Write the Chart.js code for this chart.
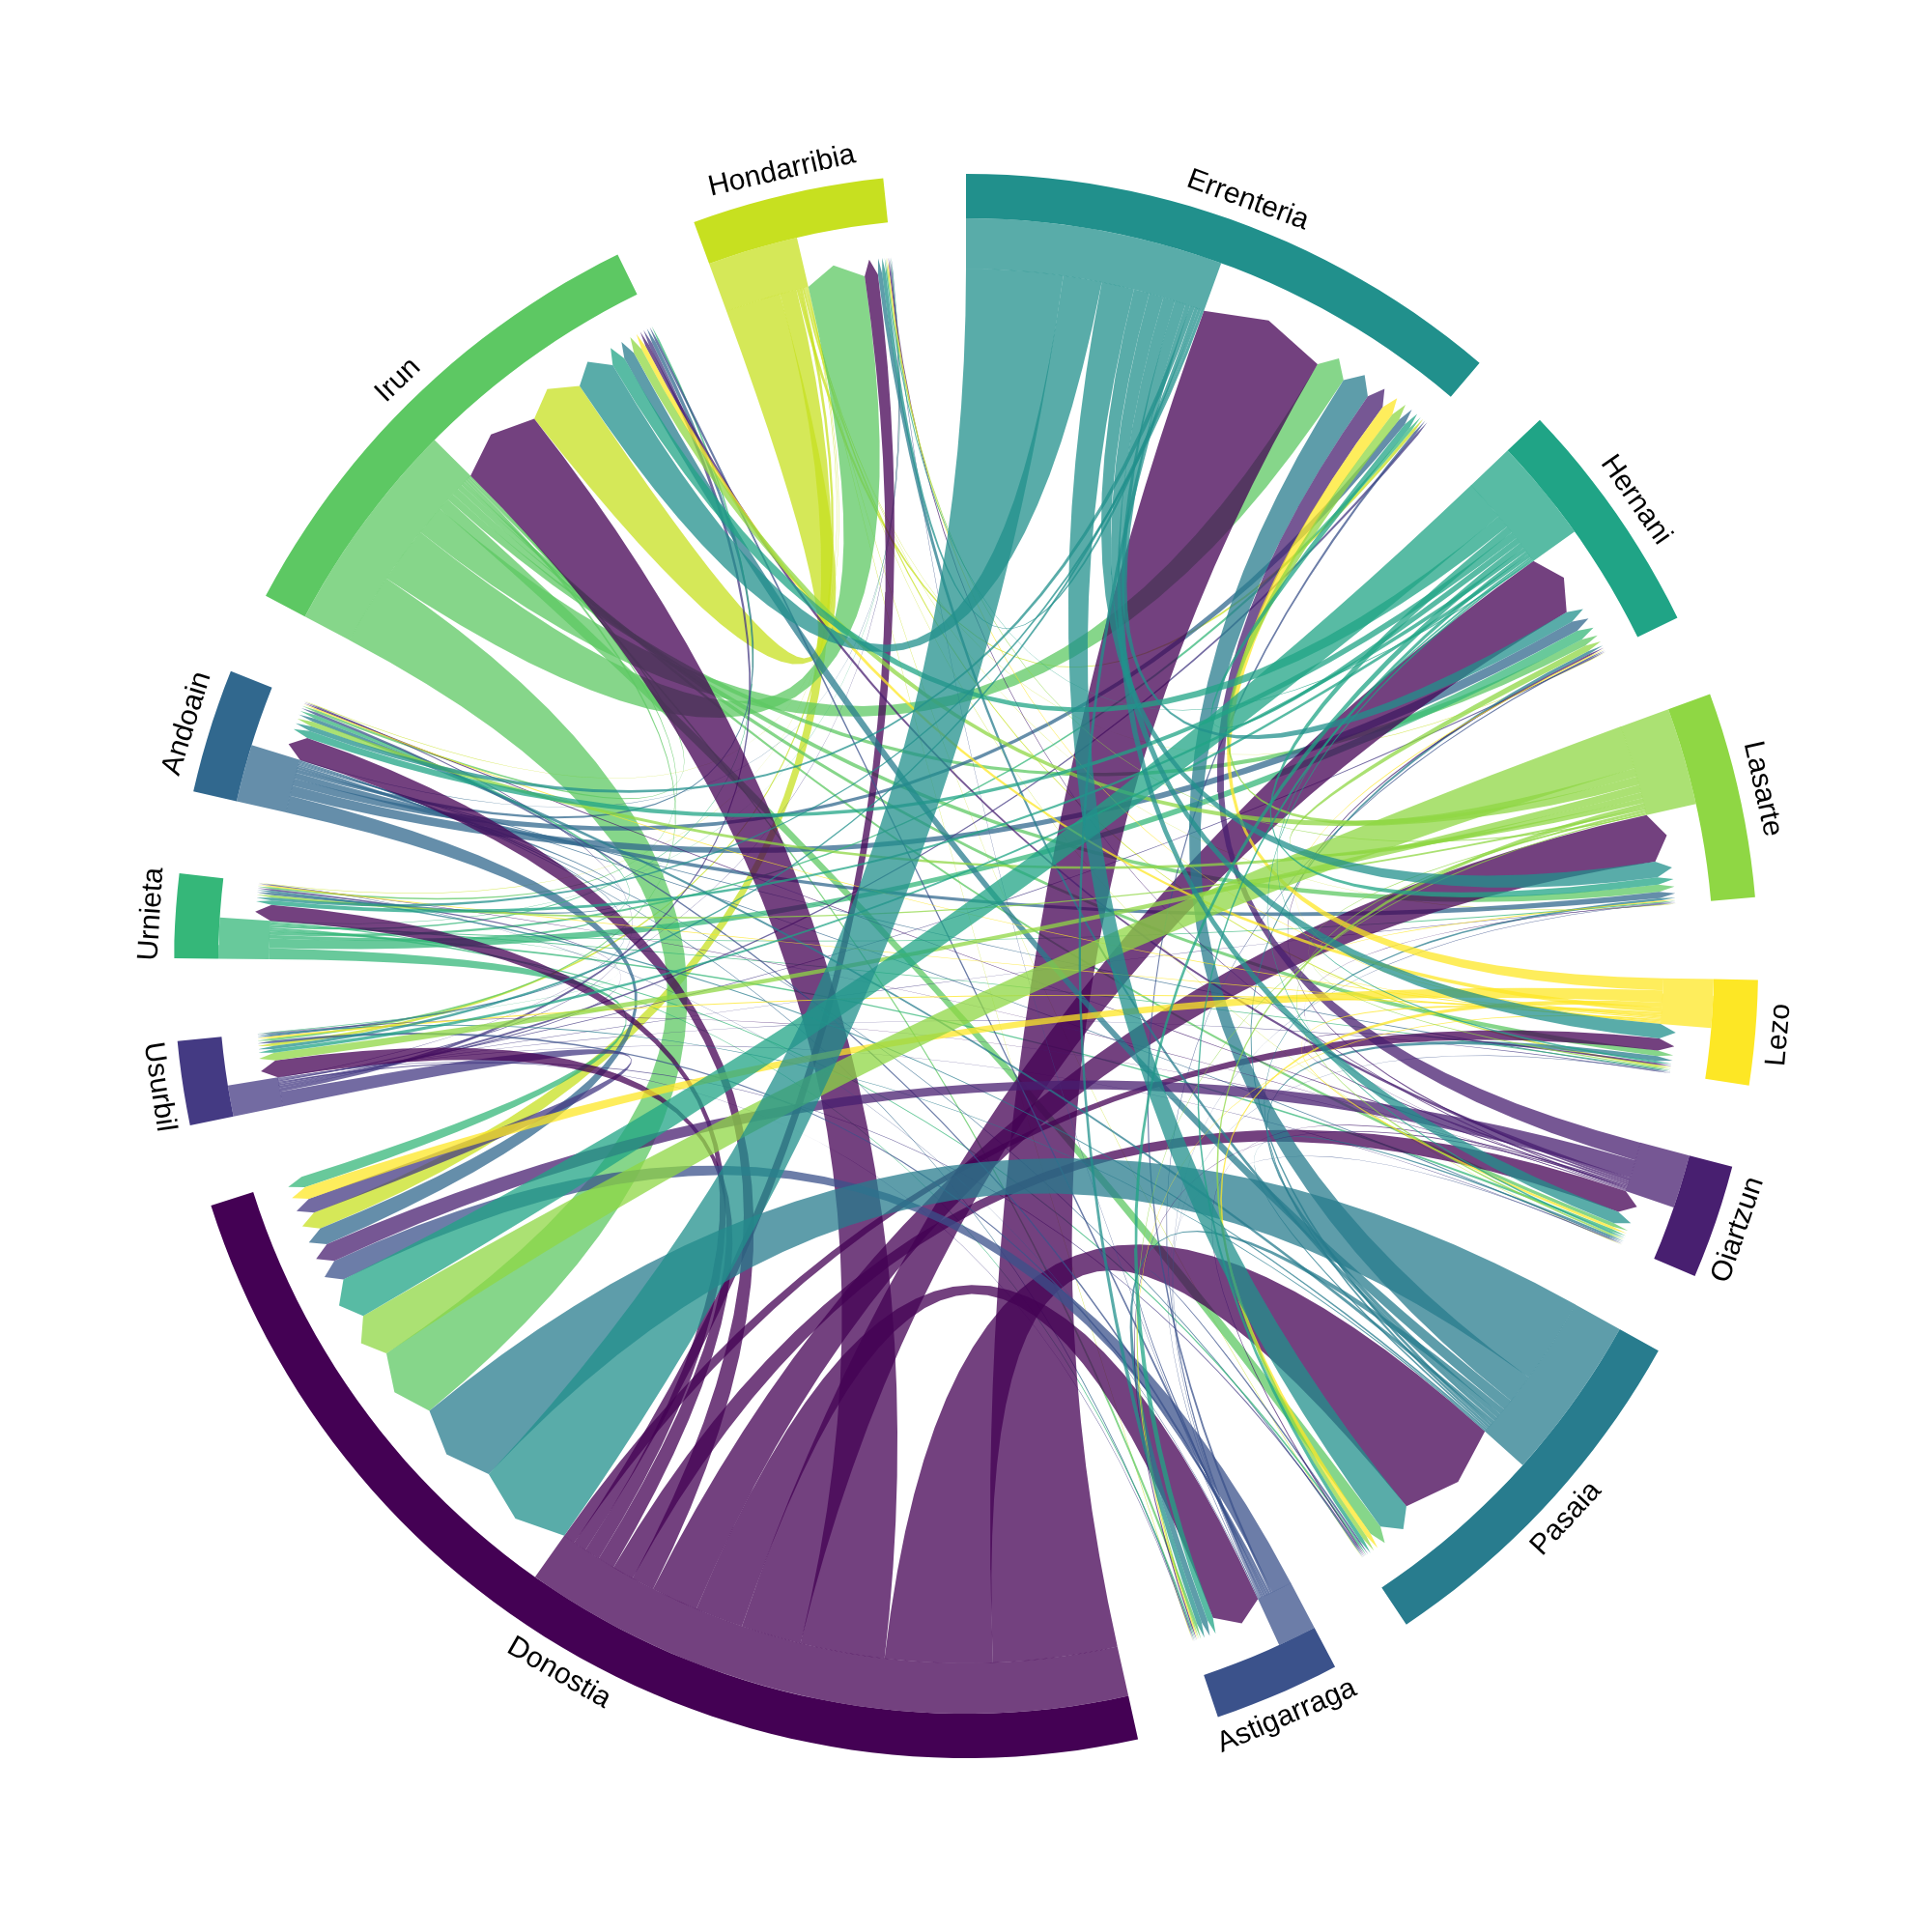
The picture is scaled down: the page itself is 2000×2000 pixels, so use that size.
<!DOCTYPE html>
<html>
<head>
<meta charset="utf-8">
<style>
  html, body { margin: 0; padding: 0; background: #fff; }
  #wrap { width: 2000px; height: 2000px; }
</style>
<script src="https://cdn.jsdelivr.net/npm/chart.js@4/dist/chart.umd.min.js"></script>
</head>
<body>
<div id="wrap"><canvas id="chord" width="2000" height="2000"></canvas></div>
<script>
// sectors clockwise from the top
var sectors = ["Errenteria", "Hernani", "Lasarte", "Lezo", "Oiartzun", "Pasaia", "Astigarraga",
  "Donostia", "Usurbil", "Urnieta", "Andoain", "Irun", "Hondarribia"];
var sectorColors = ["#21908C", "#20A486", "#8FD744", "#FDE725", "#481F70", "#287C8E", "#3B528B",
  "#440154", "#443A83", "#35B779", "#31688E", "#5DC863", "#C7E020"];

// flows out of each sector, same order as sectors
var fromErrenteria = [0, 0.9, 1.3, 1.2, 1.0, 2.7, 0.4, 8.0, 0.25, 0.25, 0.4, 3.2, 0.3];
var fromHernani = [0.5, 0, 0.6, 0.15, 0.15, 0.3, 0.5, 3.4, 0.3, 0.35, 0.6, 1.1, 0.1];
var fromLasarte = [0.7, 0.5, 0, 0.1, 0.15, 0.35, 0.1, 3.6, 0.65, 0.2, 0.4, 0.7, 0.1];
var fromLezo = [1.0, 0.1, 0.1, 0, 0.2, 0.4, 0.1, 1.0, 0.15, 0.1, 0.1, 0.4, 0.1];
var fromOiartzun = [1.5, 0.15, 0.05, 0.15, 0, 0.1, 0.1, 1.5, 0.05, 0.05, 0.1, 0.3, 0.1];
var fromPasaia = [2.4, 0.25, 0.2, 0.4, 0.15, 0, 0.5, 7.1, 0.1, 0.15, 0.3, 0.9, 0.35];
var fromAstigarraga = [0.2, 0.1, 0.05, 0.05, 0.05, 0.15, 0, 1.7, 0.2, 0.05, 0.2, 0.2, 0.05];
var fromDonostia = [10.3, 5.0, 3.9, 1, 1.8, 8.9, 4, 0, 1.4, 1.3, 1.9, 7, 1.1];
var fromUsurbil = [0.2, 0.1, 0.05, 0.05, 0.05, 0.1, 0.05, 1.2, 0, 0.15, 0.1, 0.3, 0.05];
var fromUrnieta = [0.25, 0.8, 0.1, 0.1, 0.2, 0.15, 0.1, 0.9, 0.05, 0, 0.3, 0.15, 0.05];
var fromAndoain = [0.6, 0.85, 0.5, 0.1, 0.1, 0.1, 0.1, 1.4, 0.15, 0.2, 0, 0.3, 0.05];
var fromIrun = [2.5, 0.6, 0.6, 0.45, 0.3, 1.0, 0.2, 5.9, 0.2, 0.15, 0.2, 0, 4.7];
var fromHondarribia = [0.25, 0.05, 0.05, 0.15, 0.05, 0.05, 0.05, 1.4, 0.25, 0.05, 0.05, 4.6, 0];

var flows = [fromErrenteria, fromHernani, fromLasarte, fromLezo, fromOiartzun, fromPasaia,
  fromAstigarraga, fromDonostia, fromUsurbil, fromUrnieta, fromAndoain, fromIrun, fromHondarribia];

var GAP = 6;            // degrees between sectors
var R_OUT = 1;          // track
var R_TRACK = 0.944;
var R_TIP = 0.9;        // arrow tip and shoulders of the incoming ends
var R_SHOULDER = 0.88;
var R_JOIN = 0.8803;    // links overlap the root a hair so no pale seam shows
var R_LABEL = 1.03;
var EXTENT = 1.2195;

var n = sectors.length;
var total = 0;
var outSum = [], inSum = [];
for (var i = 0; i < n; i++) { outSum[i] = 0; inSum[i] = 0; }
for (i = 0; i < n; i++) {
  for (var j = 0; j < n; j++) {
    outSum[i] += flows[i][j];
    inSum[j] += flows[i][j];
    total += flows[i][j];
  }
}
var unit = (360 - n * GAP) / (2 * total);

function pt(deg, r) {
  var a = deg * Math.PI / 180;
  return { x: r * Math.sin(a), y: r * Math.cos(a) };
}

function arc(a0, a1, r) {
  var steps = Math.max(1, Math.ceil(Math.abs(a1 - a0) / 1.5));
  var out = [];
  for (var k = 0; k <= steps; k++) out.push(pt(a0 + (a1 - a0) * k / steps, r));
  return out;
}

// quadratic curve with the control point in the centre of the circle
function curve(p, q) {
  var out = [];
  for (var k = 1; k < 30; k++) {
    var t = k / 30, u = 1 - t;
    out.push({ x: u * u * p.x + t * t * q.x, y: u * u * p.y + t * t * q.y });
  }
  return out;
}

// sector spans
var starts = [], ends = [], cursor = 0;
for (i = 0; i < n; i++) {
  starts[i] = cursor;
  ends[i] = cursor + (outSum[i] + inSum[i]) * unit;
  cursor = ends[i] + GAP;
}

// links are sorted big to small, outgoing first and then incoming
var outPos = {}, inPos = {};
for (i = 0; i < n; i++) {
  var others = sectors.map(function (s, k) { return k; });
  var byOut = others.slice().sort(function (a, b) { return flows[i][b] - flows[i][a]; });
  var pos = starts[i];
  byOut.forEach(function (k) {
    var w = flows[i][k] * unit;
    outPos[i + "-" + k] = [pos, pos + w];
    pos += w;
  });
  var byIn = others.slice().sort(function (a, b) { return flows[b][i] - flows[a][i]; });
  byIn.forEach(function (k) {
    var w = flows[k][i] * unit;
    inPos[k + "-" + i] = [pos, pos + w];
    pos += w;
  });
}

function shape(pts, color, order) {
  return {
    data: pts, showLine: true, fill: "shape", pointRadius: 0, borderWidth: 0,
    backgroundColor: color, order: order
  };
}

var datasets = [];
for (i = 0; i < n; i++) {
  for (j = 0; j < n; j++) {
    if (!flows[i][j]) continue;
    var a = outPos[i + "-" + j], b = inPos[i + "-" + j];
    var pts = arc(a[0], a[1], R_JOIN);
    pts = pts.concat(curve(pt(a[1], R_JOIN), pt(b[0], R_SHOULDER)));
    pts.push(pt(b[0], R_SHOULDER));
    pts.push(pt((b[0] + b[1]) / 2, R_TIP));
    pts.push(pt(b[1], R_SHOULDER));
    pts = pts.concat(curve(pt(b[1], R_SHOULDER), pt(a[0], R_JOIN)));
    datasets.push(shape(pts, sectorColors[i] + "BF", 2));
  }
}
for (i = 0; i < n; i++) {
  // solid root of the outgoing links, between the track and the point where they split
  var outEnd = starts[i] + outSum[i] * unit;
  datasets.push(shape(arc(starts[i], outEnd, R_TRACK).concat(arc(outEnd, starts[i], R_SHOULDER)),
    sectorColors[i] + "BF", 1));
  datasets.push(shape(arc(starts[i], ends[i], R_OUT).concat(arc(ends[i], starts[i], R_TRACK)),
    sectorColors[i], 0));
}

var sectorLabels = {
  id: "sectorLabels",
  afterDraw: function (chart) {
    var ctx = chart.ctx, xs = chart.scales.x, ys = chart.scales.y;
    ctx.save();
    ctx.fillStyle = "#000";
    ctx.font = '30px "Liberation Sans", Arial, sans-serif';
    ctx.textAlign = "center";
    ctx.textBaseline = "middle";
    sectors.forEach(function (name, k) {
      var mid = (starts[k] + ends[k]) / 2;
      var p = pt(mid, R_LABEL);
      var rot = mid > 90 && mid < 270 ? mid - 180 : mid;
      ctx.save();
      ctx.translate(xs.getPixelForValue(p.x), ys.getPixelForValue(p.y));
      ctx.rotate(rot * Math.PI / 180);
      ctx.fillText(name, 0, 0);
      ctx.restore();
    });
    ctx.restore();
  }
};

new Chart(document.getElementById("chord"), {
  type: "scatter",
  data: { datasets: datasets },
  plugins: [sectorLabels],
  options: {
    responsive: false,
    devicePixelRatio: 1,
    animation: false,
    events: [],
    layout: { padding: 0 },
    plugins: { legend: { display: false }, tooltip: { enabled: false }, title: { display: false } },
    scales: {
      x: { type: "linear", display: false, min: -EXTENT, max: EXTENT },
      y: { type: "linear", display: false, min: -EXTENT, max: EXTENT }
    }
  }
});
</script>
</body>
</html>
